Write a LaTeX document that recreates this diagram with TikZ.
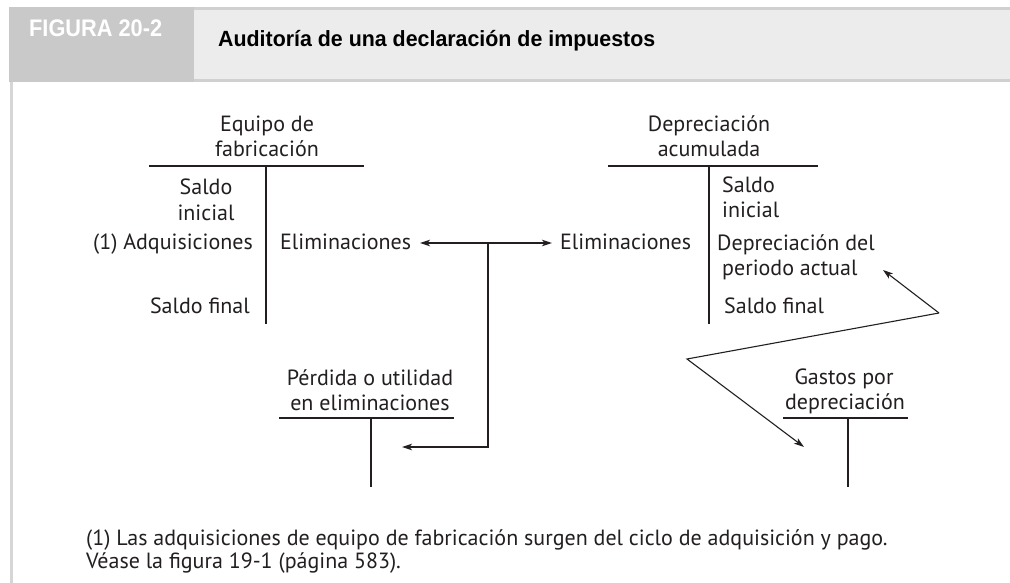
\documentclass[tikz,border=0pt]{standalone}
\usepackage{fontspec}
\setmainfont{PT Sans}
\newfontfamily\hdfont{Liberation Sans}
\usetikzlibrary{arrows.meta}
\definecolor{hddark}{HTML}{C9C9C9}
\definecolor{hdlight}{HTML}{ECECEC}
\definecolor{hdline}{HTML}{D0D0D0}
\definecolor{sideline}{HTML}{D6D6D6}
\definecolor{ink}{HTML}{231F20}
\begin{document}
\begin{tikzpicture}[x=1pt,y=-1pt,
  txt/.style={font=\fontsize{22}{26}\selectfont, inner sep=0pt, text=ink},
  ln/.style={line width=1.1pt, draw=ink},
  arr/.style={ln, -{Stealth[length=10pt,width=6.5pt,inset=2.5pt]}},
  hd/.style={font=\hdfont\bfseries\fontsize{22}{26}\selectfont, inner sep=0pt},
]
\useasboundingbox (0,0) rectangle (1010,583);
\fill[white] (0,0) rectangle (1010,583);
% header
\fill[hddark] (9,7) rectangle (194,82);
\fill[hdlight] (194,7) rectangle (1010,82);
\fill[hdline] (194,7) rectangle (1010,10);
\fill[hdline] (194,79) rectangle (1010,82);
\fill[sideline] (10,82) rectangle (13,583);
\node[hd, font=\hdfont\bfseries\fontsize{24}{28}\selectfont, text=white, anchor=base west] (fig) at (29,37) {\resizebox{133pt}{\height}{FIGURA 20-2}};
\node[hd, text=black, anchor=base west] (title) at (218,47) {\resizebox{437pt}{\height}{Auditoría de una declaración de impuestos}};

% left T-account
\node[txt, anchor=base] (eq1) at (267,132) {Equipo de};
\node[txt, anchor=base] (eq2) at (267,157) {fabricación};
\draw[ln] (149,166) -- (364,166);
\draw[ln] (266,166) -- (266,324);
\node[txt, anchor=base] (ls1) at (206,195) {Saldo};
\node[txt, anchor=base] (ls2) at (206,220) {inicial};
\node[txt, anchor=base east] (ladq) at (253,249) {(1) Adquisiciones};
\node[txt, anchor=base east] (lsf) at (250,313) {Saldo final};
\node[txt, anchor=base west] (elimL) at (280,249) {Eliminaciones};

% right T-account
\node[txt, anchor=base] (dp1) at (709,132) {Depreciación};
\node[txt, anchor=base] (dp2) at (709,157) {acumulada};
\draw[ln] (608,166) -- (818,166);
\draw[ln] (709,166) -- (709,324);
\node[txt, anchor=base west] (rs1) at (722,193) {Saldo};
\node[txt, anchor=base west] (rs2) at (722,218) {inicial};
\node[txt, anchor=base west] (rdp1) at (717,250) {Depreciación del};
\node[txt, anchor=base west] (rdp2) at (722,275) {periodo actual};
\node[txt, anchor=base west] (rsf) at (724,313) {Saldo final};
\node[txt, anchor=base west] (elimR) at (560,249) {Eliminaciones};

% bottom-left T-account
\node[txt, anchor=base] (pu1) at (370,385) {Pérdida o utilidad};
\node[txt, anchor=base] (pu2) at (370,410) {en eliminaciones};
\draw[ln] (279,418) -- (454,418);
\draw[ln] (371,418) -- (371,487);

% bottom-right T-account
\node[txt, anchor=base] (gp1) at (844,384) {Gastos por};
\node[txt, anchor=base] (gp2) at (845,409) {depreciación};
\draw[ln] (783,418) -- (908,418);
\draw[ln] (848,418) -- (848,487);

% connectors
\coordinate (j1) at (488,243);
\coordinate (j2) at (488,447);
\coordinate (aL) at (420,243);
\coordinate (aR) at (552,243);
\coordinate (aP) at (402,447);
\draw[arr] (j1) -- (aL);
\draw[arr] (j1) -- (aR);
\draw[arr] (j1) -- (j2) -- (aP);

\coordinate (z0) at (883,270);
\coordinate (z1) at (939,313);
\coordinate (z2) at (687,359);
\coordinate (z3) at (804,447);
\draw[arr] (z1) -- (z0);
\draw[arr] (z1) -- (z2) -- (z3);

% footnote
\node[txt, anchor=base west] (fn1) at (86,545) {(1) Las adquisiciones de equipo de fabricación surgen del ciclo de adquisición y pago.};
\node[txt, anchor=base west] (fn2) at (86,568) {Véase la figura 19-1 (página 583).};
\end{tikzpicture}
\end{document}
